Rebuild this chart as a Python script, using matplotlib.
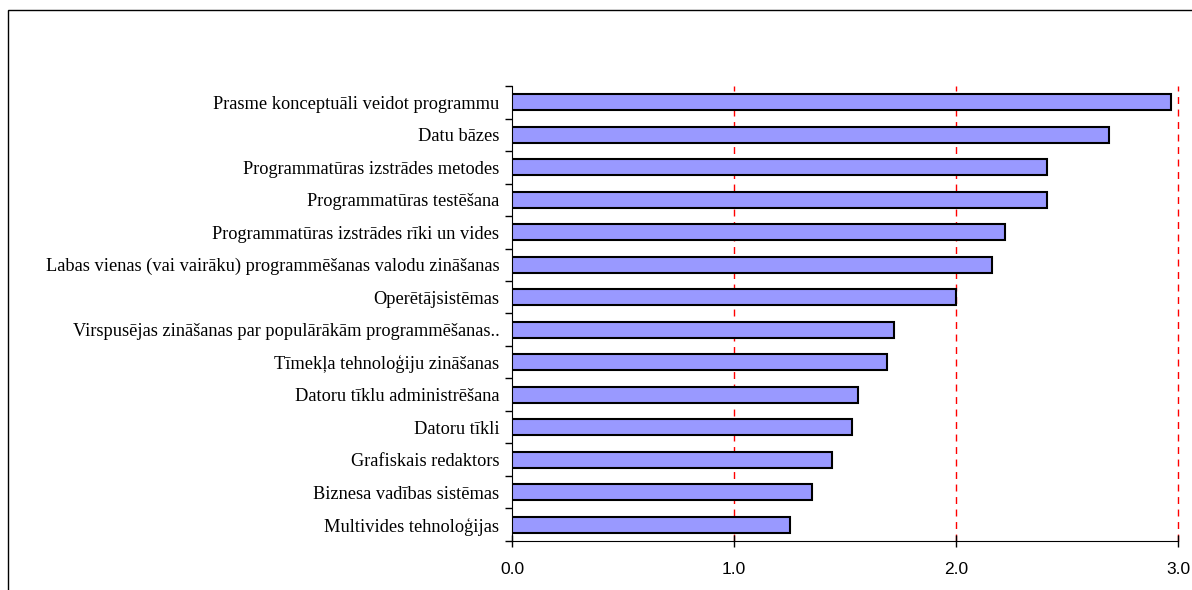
import numpy as np
import matplotlib.pyplot as plt
from matplotlib.patches import Rectangle

# categories, top to bottom
labels = [
    'Prasme konceptuāli veidot programmu',
    'Datu bāzes',
    'Programmatūras izstrādes metodes',
    'Programmatūras testēšana',
    'Programmatūras izstrādes rīki un vides',
    'Labas vienas (vai vairāku) programmēšanas valodu zināšanas',
    'Operētājsistēmas',
    'Virspusējas zināšanas par populārākām programmēšanas..',
    'Tīmekļa tehnoloģiju zināšanas',
    'Datoru tīklu administrēšana',
    'Datoru tīkli',
    'Grafiskais redaktors',
    'Biznesa vadības sistēmas',
    'Multivides tehnoloģijas',
]
values = [2.97, 2.69, 2.41, 2.41, 2.22, 2.16, 2.00, 1.72, 1.69, 1.56, 1.53, 1.44, 1.35, 1.25]
xticks = [0, 1, 2, 3]
xticklabels = ['0.0', '1.0', '2.0', '3.0']

#-- create figure
fig = plt.figure(dpi=100, figsize=[11.92, 5.90])
ax1 = fig.add_axes([0.4295, 0.0831, 0.9883 - 0.4295, 0.8542 - 0.0831])

# frame round the whole chart (only left and top visible)
fig.patches.append(Rectangle((8 / 1192, -0.2), 1.2, 0.2 + (590 - 10) / 590,
                             transform=fig.transFigure, fill=False,
                             edgecolor='black', linewidth=1.0))

n = len(labels)
ypos = np.arange(n)
ax1.barh(ypos, values, height=0.5, color='#9999ff', edgecolor='black', linewidth=1.5, zorder=3)

ax1.set_xlim(0, 3)
ax1.set_ylim(n - 0.5, -0.5)

# grid lines
for xv in xticks[1:]:
    ax1.axvline(xv, color='red', linestyle=(0, (5, 4)), linewidth=1.0, zorder=1, clip_on=False)

# y ticks at boundaries, labels at centres
ax1.set_yticks(np.arange(n + 1) - 0.5)
ax1.set_yticklabels([])
ax1.set_yticks(ypos, minor=True)
ax1.set_yticklabels(labels, minor=True, fontsize=13.2, family='Liberation Serif')
ax1.tick_params(axis='y', which='minor', length=0, pad=9)
ax1.tick_params(axis='y', which='major', length=5, width=1.0, direction='out')

ax1.set_xticks(xticks)
ax1.set_xticklabels(xticklabels, fontsize=12.5, family='Liberation Sans')
ax1.tick_params(axis='x', length=8, width=1.0, direction='inout', pad=11)

ax1.spines['top'].set_visible(False)
ax1.spines['right'].set_visible(False)

# save fig
plt.savefig('out.png', format='png')
